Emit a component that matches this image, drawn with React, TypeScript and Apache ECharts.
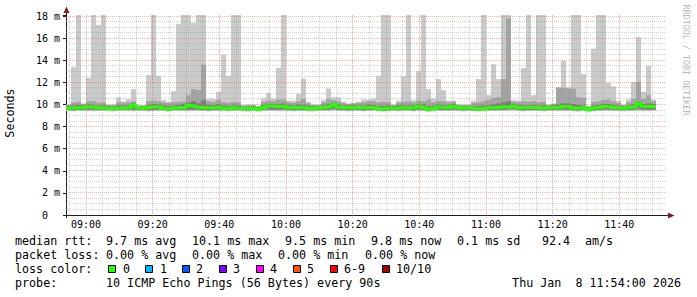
import React, { useEffect, useRef } from 'react';
import * as echarts from 'echarts';

// ---- data: SmokePing, 90 s steps from 08:54 to 11:54 (120 columns) ----
const STEP_MIN = 1.5;
const WINDOW_MIN = 180; // minutes shown, starting 08:54
const Y_MAX = 18.1;

const timeTickMinutes = [6, 26, 46, 66, 86, 106, 126, 146, 166];
const timeTickLabels = ['09:00', '09:20', '09:40', '10:00', '10:20', '10:40', '11:00', '11:20', '11:40'];
const yTickValues = [0, 2, 4, 6, 8, 10, 12, 14, 16, 18];

// highest ping of each round (ms)
const pingMax: (number | null)[] = [
  10.0, 13.4, 18.5, 10.1, 12.4, 18.5, 17.2, 18.5, 10.0, 10.0,
  10.65, 10.3, 10.5, 11.4, 9.95, 9.95, 12.65, 18.5, 12.6, 10.4,
  10.25, 11.2, 17.3, 18.5, 18.5, 17.4, 18.5, 18.5, 10.5, 10.5,
  11.15, 14.5, 12.6, 18.5, 18.5, 9.95, 10.0, 10.0, 9.85, 10.55,
  11.05, 10.55, 13.3, 18.5, 10.35, 10.35, 10.95, 12.35, 10.25, 10.0,
  10.0, 10.4, 11.45, 10.65, 10.65, 10.25, 10.1, 10.15, 10.25, 10.45,
  10.45, 10.55, 12.55, 18.5, 18.5, 10.0, 10.35, 12.55, 18.5, 10.4,
  13.0, 18.5, 11.4, 10.55, 12.3, 11.3, 10.35, 10.35, 10.0, 10.0,
  10.0, 10.35, 12.3, 18.5, 10.85, 13.65, 12.3, 18.5, 18.5, 10.4,
  10.35, 13.3, 18.5, 10.85, 18.5, 18.5, 10.0, 10.1, 11.55, 13.95,
  11.55, 18.5, 18.5, 12.75, 9.85, 15.05, 18.5, 18.5, 11.95, 11.65,
  10.35, 10.0, 10.45, 12.05, 16.1, 11.15, 13.5, 10.45, null, null,
];
// second highest ping
const pingHigh: (number | null)[] = [
  9.95, 10.2, 10.25, 10.05, 10.3, 10.3, 10.15, 10.2, 9.95, 9.95,
  10.2, 10.15, 10.2, 10.3, 9.9, 9.9, 10.3, 10.35, 10.3, 10.2,
  10.15, 10.2, 10.25, 10.3, 10.85, 11.4, 11.3, 13.6, 10.3, 10.25,
  10.4, 10.2, 10.15, 10.25, 10.2, 9.9, 9.95, 9.95, 9.8, 10.25,
  10.35, 10.3, 10.45, 10.45, 10.2, 10.15, 10.3, 10.5, 10.1, 9.95,
  9.95, 10.2, 10.5, 10.4, 10.3, 10.15, 10.05, 10.1, 10.15, 10.2,
  10.3, 10.3, 10.2, 10.25, 10.2, 9.95, 10.15, 10.25, 10.3, 10.2,
  10.35, 10.3, 10.45, 10.2, 10.35, 10.3, 10.2, 10.25, 9.95, 9.95,
  9.95, 10.15, 10.2, 10.3, 10.4, 10.6, 10.65, 12.3, 17.8, 10.25,
  10.2, 10.3, 10.25, 10.3, 10.2, 10.25, 9.95, 10.05, 11.55, 11.5,
  11.45, 11.45, 10.65, 10.6, 9.8, 10.25, 10.3, 10.4, 10.45, 10.3,
  10.15, 9.95, 10.2, 10.5, 12.05, 10.5, 10.85, 10.3, null, null,
];
// third highest ping
const pingMid: (number | null)[] = [
  9.85, 9.9, 9.95, 9.9, 10.0, 9.95, 9.9, 9.9, 9.85, 9.8,
  9.9, 9.9, 9.9, 10.1, 9.85, 9.85, 9.95, 10.05, 10.0, 9.9,
  9.85, 9.9, 9.95, 10.05, 10.15, 10.3, 10.1, 10.4, 9.95, 9.95,
  10.0, 9.9, 9.85, 9.9, 9.9, 9.8, 9.8, 9.85, 9.75, 9.95,
  10.05, 10.05, 10.05, 10.1, 9.95, 9.9, 10.0, 9.95, 9.85, 9.85,
  9.85, 9.95, 10.05, 10.15, 10.0, 9.9, 9.9, 9.95, 9.9, 9.9,
  10.0, 9.95, 9.85, 9.85, 9.9, 9.85, 9.9, 9.9, 9.9, 9.9,
  10.05, 10.0, 9.85, 9.85, 10.0, 9.95, 9.9, 10.05, 9.9, 9.85,
  9.85, 9.85, 9.85, 9.9, 9.9, 10.0, 10.1, 10.2, 10.3, 10.05,
  9.95, 9.9, 9.9, 9.95, 9.9, 9.9, 9.85, 9.95, 10.0, 10.1,
  10.1, 10.05, 9.95, 9.9, 9.7, 9.9, 9.95, 10.05, 10.05, 9.95,
  9.9, 9.85, 9.9, 10.0, 10.25, 10.05, 10.1, 10.05, null, null,
];
// second lowest ping
const pingLow: (number | null)[] = [
  9.50, 9.48, 9.50, 9.52, 9.52, 9.50, 9.50, 9.52, 9.50, 9.48,
  9.50, 9.52, 9.50, 9.50, 9.52, 9.50, 9.48, 9.52, 9.52, 9.50,
  9.46, 9.50, 9.52, 9.52, 9.50, 9.52, 9.52, 9.50, 9.48, 9.52,
  9.52, 9.50, 9.48, 9.50, 9.50, 9.48, 9.46, 9.50, 9.46, 9.52,
  9.54, 9.52, 9.52, 9.54, 9.50, 9.48, 9.52, 9.50, 9.48, 9.48,
  9.50, 9.52, 9.52, 9.56, 9.52, 9.50, 9.48, 9.52, 9.50, 9.48,
  9.52, 9.52, 9.48, 9.46, 9.48, 9.50, 9.48, 9.50, 9.50, 9.48,
  9.54, 9.52, 9.44, 9.48, 9.52, 9.52, 9.50, 9.54, 9.52, 9.48,
  9.50, 9.48, 9.46, 9.48, 9.50, 9.52, 9.52, 9.52, 9.54, 9.56,
  9.52, 9.48, 9.50, 9.52, 9.50, 9.48, 9.50, 9.52, 9.52, 9.54,
  9.54, 9.48, 9.46, 9.50, 9.42, 9.48, 9.50, 9.54, 9.54, 9.52,
  9.50, 9.48, 9.50, 9.52, 9.56, 9.54, 9.52, 9.54, null, null,
];
// lowest ping
const pingMin: (number | null)[] = [
  9.40, 9.38, 9.40, 9.42, 9.40, 9.38, 9.40, 9.42, 9.40, 9.38,
  9.40, 9.42, 9.40, 9.38, 9.40, 9.40, 9.38, 9.40, 9.42, 9.40,
  9.36, 9.40, 9.42, 9.40, 9.38, 9.40, 9.42, 9.40, 9.38, 9.40,
  9.42, 9.40, 9.38, 9.40, 9.40, 9.38, 9.36, 9.40, 9.36, 9.40,
  9.42, 9.40, 9.40, 9.42, 9.40, 9.38, 9.40, 9.40, 9.38, 9.38,
  9.40, 9.42, 9.40, 9.44, 9.40, 9.40, 9.38, 9.40, 9.40, 9.38,
  9.40, 9.42, 9.38, 9.36, 9.38, 9.40, 9.38, 9.40, 9.40, 9.38,
  9.42, 9.40, 9.34, 9.38, 9.40, 9.42, 9.40, 9.42, 9.40, 9.38,
  9.40, 9.38, 9.36, 9.38, 9.40, 9.40, 9.42, 9.40, 9.42, 9.44,
  9.40, 9.38, 9.40, 9.42, 9.40, 9.38, 9.40, 9.42, 9.40, 9.42,
  9.42, 9.38, 9.36, 9.40, 9.32, 9.38, 9.40, 9.42, 9.42, 9.40,
  9.40, 9.38, 9.40, 9.42, 9.44, 9.42, 9.40, 9.42, null, null,
];
// median rtt (0 % loss throughout)
const medianRtt: (number | null)[] = [
  9.66, 9.68, 9.70, 9.72, 9.80, 9.78, 9.70, 9.68, 9.66, 9.64,
  9.66, 9.68, 9.70, 9.94, 9.70, 9.68, 9.74, 9.80, 9.78, 9.66,
  9.62, 9.68, 9.70, 9.72, 9.92, 9.86, 9.76, 9.72, 9.70, 9.74,
  9.76, 9.66, 9.64, 9.70, 9.66, 9.64, 9.62, 9.66, 9.58, 9.74,
  9.86, 9.86, 9.82, 9.84, 9.74, 9.70, 9.76, 9.70, 9.66, 9.64,
  9.68, 9.74, 9.80, 9.98, 9.78, 9.72, 9.70, 9.76, 9.72, 9.70,
  9.76, 9.74, 9.64, 9.62, 9.66, 9.68, 9.66, 9.70, 9.68, 9.70,
  9.84, 9.74, 9.56, 9.64, 9.78, 9.76, 9.72, 9.84, 9.74, 9.68,
  9.70, 9.66, 9.62, 9.64, 9.70, 9.74, 9.72, 9.80, 9.78, 9.84,
  9.74, 9.70, 9.72, 9.76, 9.70, 9.68, 9.70, 9.76, 9.72, 9.82,
  9.80, 9.68, 9.66, 9.70, 9.54, 9.68, 9.72, 9.82, 9.80, 9.74,
  9.70, 9.66, 9.72, 9.78, 10.06, 9.84, 9.82, 9.82, null, null,
];

const lossLabels = ['0', '1', '2', '3', '4', '5', '6-9', '10/10'];
const lossColors = ['#26ff00', '#00b8ff', '#0059ff', '#7e00ff', '#ff00ff', '#ff5500', '#ff0000', '#a10000'];

const rttLegend = ['9.7 ms avg', '10.1 ms max', '9.5 ms min', '9.8 ms now', '0.1 ms sd', '92.4', 'am/s'];
const lossLegend = ['0.00 % avg', '0.00 % max', '0.00 % min', '0.00 % now'];
const dateStamp = 'Thu Jan\u00a0 8 11:54:00 2026';

// ---- layout / style ----
const MONO = '"DejaVu Sans Mono", "Liberation Mono", monospace';
const GRID = { left: 66, top: 15, width: 600, height: 200 };
const SMOKE = ['#cacaca', '#a4a4a4', '#7e7e7e'];

export default function App() {
  const ref = useRef<HTMLDivElement>(null);

  useEffect(() => {
    if (!ref.current) return;
    const chart = echarts.init(ref.current, null, { renderer: 'svg' });

    const smokeData: number[][] = [];
    pingMax.forEach((v, i) => {
      if (v == null) return;
      smokeData.push([i * STEP_MIN, pingMin[i] as number, pingLow[i] as number, pingMid[i] as number, pingHigh[i] as number, v]);
    });

    const clampY = (v: number) => Math.min(v, Y_MAX);

    const legendText = (text: string, x: number, y: number, extra: any = {}) => ({
      type: 'text',
      x,
      y,
      silent: true,
      style: { text, fill: '#000', fontFamily: MONO, fontSize: 11.7, verticalAlign: 'middle', ...extra },
    });

    const rttX = [106, 192, 285, 371, 457, 542, 585];
    const lossX = [106, 192, 278, 365];
    const boxX = [108, 145, 182, 219, 256, 293, 330, 382];
    const boxLabelX = [123, 160, 196, 233, 270, 307, 344, 396];

    const graphic: any[] = [
      // axes with arrows
      { type: 'line', silent: true, shape: { x1: 66.5, y1: 218, x2: 66.5, y2: 11 }, style: { stroke: '#1f1f1f', lineWidth: 1 } },
      { type: 'polygon', silent: true, shape: { points: [[63.5, 13], [69.5, 13], [66.5, 6.5]] }, style: { fill: '#7f1f1f' } },
      { type: 'line', silent: true, shape: { x1: 63, y1: 215.5, x2: 669, y2: 215.5 }, style: { stroke: '#1f1f1f', lineWidth: 1 } },
      { type: 'polygon', silent: true, shape: { points: [[668, 212.5], [668, 218.5], [674.5, 215.5]] }, style: { fill: '#7f1f1f' } },
      // y axis title
      {
        type: 'text', silent: true, x: 10, y: 113, rotation: Math.PI / 2,
        style: { text: 'Seconds', fill: '#000', fontFamily: MONO, fontSize: 11.7, align: 'center', verticalAlign: 'middle' },
      },
      // watermark
      {
        type: 'text', silent: true, x: 686, y: 60, rotation: -Math.PI / 2,
        style: { text: 'RRDTOOL / TOBI OETIKER', fill: '#b8b8b8', fontFamily: MONO, fontSize: 8.4, align: 'center', verticalAlign: 'middle' },
      },
      legendText('median rtt:', 15, 241),
      ...rttLegend.map((t, i) => legendText(t, rttX[i], 241)),
      legendText('packet loss:', 15, 255),
      ...lossLegend.map((t, i) => legendText(t, lossX[i], 255)),
      legendText('loss color:', 15, 269),
      ...lossLabels.map((t, i) => legendText(t, boxLabelX[i], 269)),
      ...lossColors.map((c, i) => ({
        type: 'rect', silent: true,
        shape: { x: boxX[i] + 0.5, y: 265.5, width: 7, height: 7 },
        style: { fill: c, stroke: '#000', lineWidth: 1 },
      })),
      legendText('probe:', 15, 283),
      legendText('10 ICMP Echo Pings (56 Bytes) every 90s', 106, 283),
      legendText(dateStamp, 681, 283, { align: 'right' }),
    ];

    const option: any = {
      animation: false,
      backgroundColor: '#ffffff',
      grid: { ...GRID },
      xAxis: {
        type: 'value',
        min: 0,
        max: WINDOW_MIN,
        interval: 2,
        axisLine: { show: false },
        axisTick: { show: false },
        splitLine: { show: false },
        axisLabel: {
          margin: 4,
          fontFamily: MONO,
          fontSize: 10,
          color: '#000',
          formatter: (v: number) => {
            const k = timeTickMinutes.indexOf(v);
            return k >= 0 ? timeTickLabels[k] : '';
          },
        },
      },
      yAxis: {
        type: 'value',
        min: 0,
        max: Y_MAX,
        interval: 2,
        axisLine: { show: false },
        axisTick: { show: true, length: 3, lineStyle: { color: '#1f1f1f', width: 1 } },
        splitLine: { show: false },
        axisLabel: {
          margin: 6,
          fontFamily: MONO,
          fontSize: 10,
          color: '#000',
          formatter: (v: number) => {
            if (v === 0) return '{z|0}';
            return yTickValues.indexOf(v) >= 0 ? `${v} m` : '';
          },
          rich: { z: { fontFamily: MONO, fontSize: 10, color: '#000', padding: [0, 12, 0, 0] } },
        },
      },
      graphic,
      series: [
        {
          type: 'custom',
          name: 'smoke',
          z: 1,
          data: smokeData,
          encode: { x: 0, y: 5 },
          renderItem: (_p: any, api: any) => {
            const t = api.value(0);
            const bands = [
              [api.value(1), api.value(5), SMOKE[0]],
              [api.value(2), api.value(4), SMOKE[1]],
              [api.value(2), api.value(3), SMOKE[2]],
            ];
            return {
              type: 'group',
              children: bands.map(([lo, hi, color]) => {
                const a = api.coord([t, clampY(lo as number)]);
                const b = api.coord([t + STEP_MIN, clampY(hi as number)]);
                return {
                  type: 'rect',
                  shape: { x: a[0], y: b[1], width: b[0] - a[0], height: a[1] - b[1] },
                  style: { fill: color as string },
                };
              }),
            };
          },
        },
        {
          type: 'custom',
          name: 'grid',
          z: 2,
          silent: true,
          data: [[0, 0]],
          renderItem: (_p: any, api: any) => {
            const lines: any[] = [];
            const minorStyle = { stroke: 'rgba(143,143,143,0.38)', lineWidth: 1, lineDash: [1, 1] };
            const majorStyle = { stroke: 'rgba(222,79,79,0.45)', lineWidth: 1, lineDash: [1, 1] };
            const yTop = api.coord([0, Y_MAX])[1];
            const yBot = api.coord([0, 0])[1];
            const xL = api.coord([0, 0])[0];
            const xR = api.coord([WINDOW_MIN, 0])[0];
            for (let m = 1; m < WINDOW_MIN; m += 5) {
              const major = timeTickMinutes.indexOf(m) >= 0;
              const x = Math.floor(api.coord([m, 0])[0]) + 0.5;
              lines.push({ type: 'line', shape: { x1: x, y1: yBot + (major ? 3 : 0), x2: x, y2: yTop }, style: major ? majorStyle : minorStyle });
            }
            for (let v = 0.5; v <= 18; v += 0.5) {
              const major = yTickValues.indexOf(v) >= 0;
              const y = Math.floor(api.coord([0, v])[1]) + 0.5;
              lines.push({ type: 'line', shape: { x1: xL, y1: y, x2: xR, y2: y }, style: major ? majorStyle : minorStyle });
            }
            return { type: 'group', children: lines };
          },
        },
        {
          type: 'custom',
          name: 'median rtt',
          z: 3,
          data: [[0, 0]],
          renderItem: (_p: any, api: any) => {
            const pts: number[][] = [];
            medianRtt.forEach((m, i) => {
              if (m == null) return;
              pts.push(api.coord([i * STEP_MIN, m]));
              pts.push(api.coord([(i + 1) * STEP_MIN, m]));
            });
            return {
              type: 'polyline',
              shape: { points: pts },
              style: { stroke: lossColors[0], lineWidth: 3, fill: null },
            };
          },
        },
      ],
    };

    chart.setOption(option);
    return () => chart.dispose();
  }, []);

  return (
    <div
      ref={ref}
      style={{ position: 'fixed', left: 0, top: 0, width: 697, height: 297, background: '#fff' }}
    />
  );
}
